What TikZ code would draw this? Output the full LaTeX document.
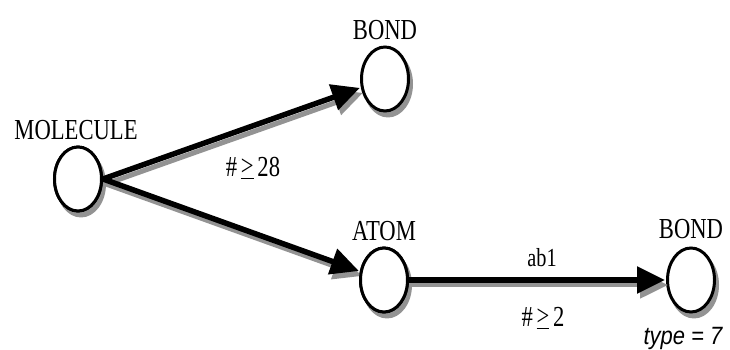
\documentclass[tikz,border=0pt]{standalone}
\usepackage{fontspec}
\setmainfont{Liberation Serif}
\newfontfamily\labelsans{Liberation Sans}
\usetikzlibrary{shapes.geometric,arrows.meta}

\tikzset{
  x=1pt, y=1pt,
  entity/.style={ellipse, draw=black, fill=white, line width=3pt,
    minimum width=47pt, minimum height=64pt, inner sep=0pt},
  entityshadow/.style={ellipse, fill=gray!85, draw=none,
    minimum width=50pt, minimum height=67pt, inner sep=0pt},
  caption/.style={inner sep=0pt, font=\fontsize{29}{32}\selectfont},
  small/.style={inner sep=0pt, font=\fontsize{26}{30}\selectfont},
  rel/.style={line width=5.5pt, black,
    -{Triangle[length=28pt,width=26pt]}, shorten >=1pt},
  relshadow/.style={line width=5pt, gray!85,
    -{Triangle[length=28pt,width=26pt]}, shorten >=1pt,
    transform canvas={xshift=3pt,yshift=-5pt}},
}
\newcommand{\narrow}[1]{\scalebox{0.78}[1]{#1}}
% "greater or equal" set as > over a level bar
\newcommand{\gebar}{\underline{\raisebox{1pt}{>}}}

\begin{document}
\begin{tikzpicture}
\useasboundingbox (0,0) rectangle (730,350);

% node positions
\coordinate (molc) at (78,171);
\coordinate (bond1c) at (385,271);
\coordinate (atomc) at (384,70);
\coordinate (bond2c) at (691,70);

% shadows of the entities
\node[entityshadow] at ([shift={(3,-5)}]molc) {};
\node[entityshadow] at ([shift={(3,-5)}]bond1c) {};
\node[entityshadow] at ([shift={(3,-5)}]atomc) {};
\node[entityshadow] at ([shift={(3,-5)}]bond2c) {};

% entities
\node[entity] (mol) at (molc) {};
\node[entity] (bond1) at (bond1c) {};
\node[entity] (atom) at (atomc) {};
\node[entity] (bond2) at (bond2c) {};

% relation shadows
\draw[relshadow] (mol.east) -- (bond1);
\draw[relshadow] (mol.east) -- (atom);
\draw[relshadow] (atom) -- (bond2);

% relations
\draw[rel] (mol.east) -- (bond1);
\draw[rel] (mol.east) -- (atom);
\draw[rel] (atom) -- (bond2);

% redraw entity outlines over the line starts
\node[entity] at (molc) {};
\node[entity] at (atomc) {};

% entity names
\node[caption] (molname) at (76,220) {\narrow{MOLECULE}};
\node[caption] (bond1name) at (385,320) {\narrow{BOND}};
\node[caption] (atomname) at (384,119) {\narrow{ATOM}};
\node[caption] (bond2name) at (691,121) {\narrow{BOND}};

% relation labels
\node[caption] (card1) at (253,182) {\narrow{\#\,\gebar\,28}};
\node[small] (rolename) at (542,92) {\narrow{ab1}};
\node[caption] (card2) at (543,32) {\narrow{\#\,\gebar\,2}};
\node[inner sep=0pt, font=\labelsans\fontsize{25}{28}\selectfont\itshape]
  (cond) at (683,12) {\scalebox{0.88}[1]{type = 7}};
\end{tikzpicture}
\end{document}
